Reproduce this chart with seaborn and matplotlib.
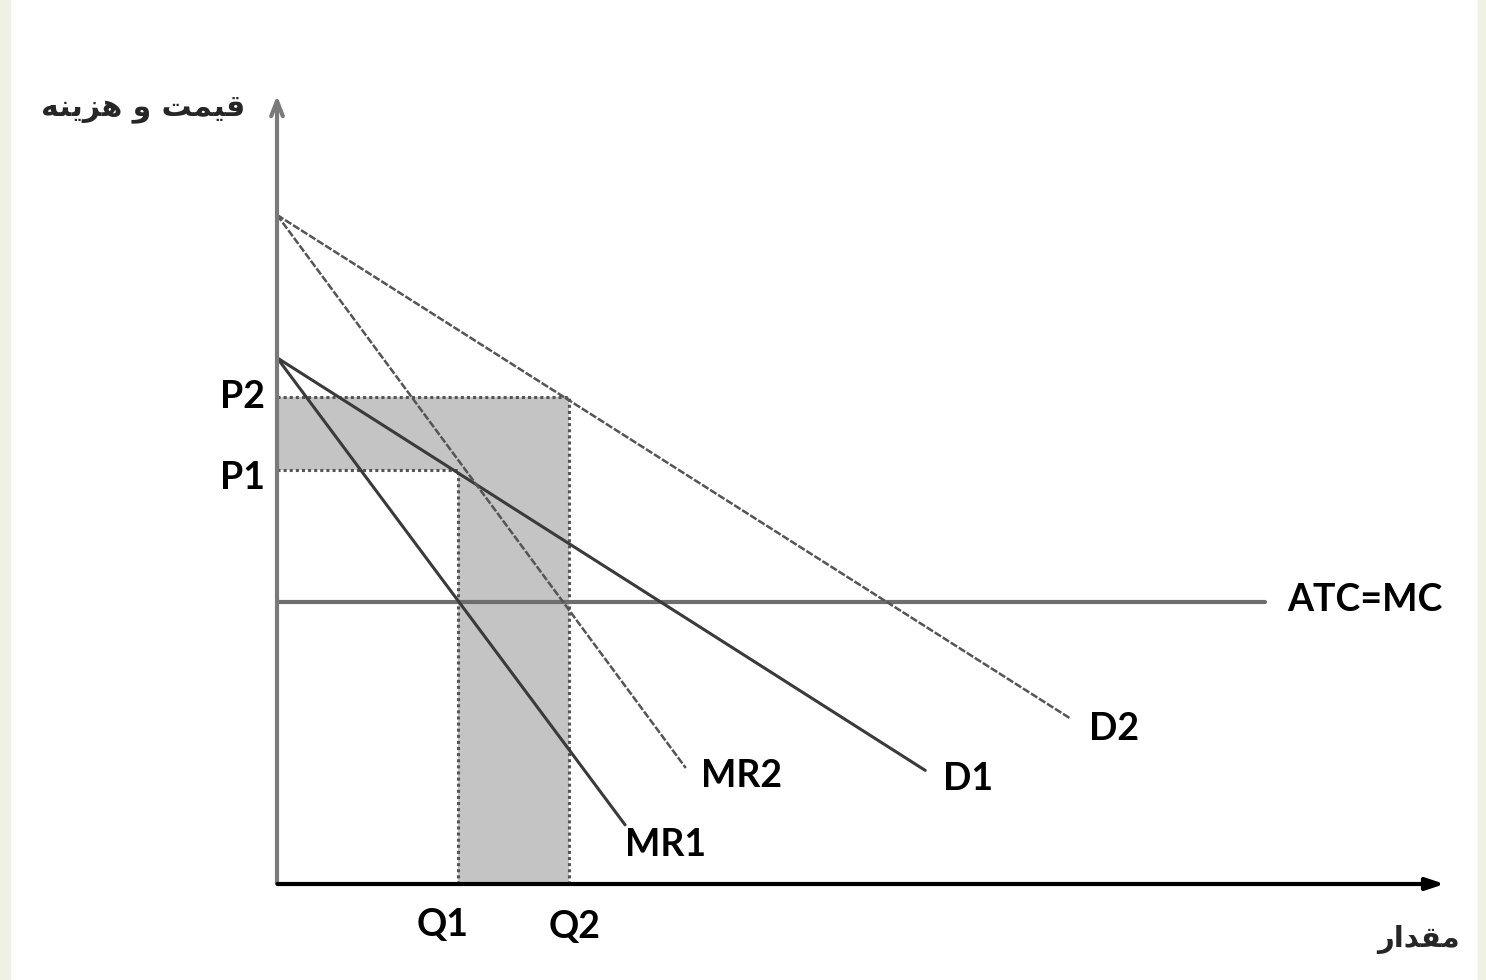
import numpy as np
import pandas as pd
import matplotlib
matplotlib.use("Agg")
import matplotlib.pyplot as plt
from matplotlib.patches import Rectangle
import seaborn as sns

# curve end points (quantity, price)
d2_q = [0.0, 67.9]
d2_p = [84.8, 21.0]
mr2_q = [0.0, 35.0]
mr2_p = [84.8, 14.7]
d1_q = [0.0, 55.5]
d1_p = [66.7, 14.4]
mr1_q = [0.0, 29.8]
mr1_p = [66.7, 7.5]
atc_q = [0.0, 84.6]
atc_p = [35.7, 35.7]

p1, p2 = 52.5, 61.7
q1, q2 = 15.5, 25.0

# persian labels (logical text: "قیمت و هزینه", "مقدار"), given in
# presentation forms and visual order since matplotlib does no shaping
ylab = "\uFEEA\uFEE8\uFEF3\uFEB0\uFEEB \uFEED \uFE96\uFEE4\uFEF4\uFED7"
xlab = "\uFEAD\uFE8D\uFEAA\uFED8\uFEE3"

sns.set_theme(style="white")
plt.rcParams['font.family'] = ['Lato', 'DejaVu Sans']

fig = plt.figure(figsize=(14.86, 9.80), dpi=100)
ax = fig.add_axes([0, 0, 1, 1])
# pixel mapping: origin at (277, 884), 11.68 px per q unit, 7.89 px per p unit
ax.set_xlim(-277 / 11.68, (1486 - 277) / 11.68)
ax.set_ylim(-(980 - 884) / 7.89, 884 / 7.89)
ax.axis('off')

# side strips
for x0 in (0, 1478 / 1486):
    fig.patches.append(Rectangle((x0, 0), 10 / 1486, 1, transform=fig.transFigure,
                                 color='#eef2e2', zorder=0))

# shaded area
shade = '#c4c4c4'
ax.fill_between([0, q2], p1, p2, color=shade, lw=0, zorder=1)
ax.fill_between([q1, q2], 0, p2, color=shade, lw=0, zorder=1)

dot = dict(color='#555555', lw=2.2, ls=(0, (1, 1)), zorder=2)
ax.plot([0, q2], [p2, p2], **dot)
ax.plot([0, q1], [p1, p1], **dot)
ax.plot([q1, q1], [0, p1], **dot)
ax.plot([q2, q2], [0, p2], **dot)

# curves
sns.lineplot(x=atc_q, y=atc_p, ax=ax, color='#6e6e6e', lw=3, zorder=3)
sns.lineplot(x=d1_q, y=d1_p, ax=ax, color='#3a3a3a', lw=2.2, zorder=4)
sns.lineplot(x=mr1_q, y=mr1_p, ax=ax, color='#3a3a3a', lw=2.2, zorder=4)
sns.lineplot(x=d2_q, y=d2_p, ax=ax, color='#555555', lw=1.8, ls=(0, (3, 0.8)), zorder=4)
sns.lineplot(x=mr2_q, y=mr2_p, ax=ax, color='#555555', lw=1.8, ls=(0, (3, 0.8)), zorder=4)

# axes with arrows
ax.annotate('', xy=(0, 100.3), xytext=(0, -0.2),
            arrowprops=dict(arrowstyle='->,head_length=0.9,head_width=0.35',
                            color='#7a7a7a', lw=3), zorder=5)
ax.annotate('', xy=(100.2, 0), xytext=(-0.2, 0),
            arrowprops=dict(arrowstyle='-|>,head_length=0.9,head_width=0.3',
                            color='black', lw=3), zorder=5)

lab = dict(fontsize=27, fontweight='bold', color='black', va='center')
ax.text(-1.0, p2, 'P2', ha='right', **lab)
ax.text(-1.0, p1 - 1.0, 'P1', ha='right', **lab)
ax.text(q1 - 1.3, -5.2, 'Q1', ha='center', **lab)
ax.text(q2 + 0.5, -5.5, 'Q2', ha='center', **lab)
ax.text(29.8, 4.9, 'MR1', ha='left', **lab)
ax.text(36.3, 13.7, 'MR2', ha='left', **lab)
ax.text(57.0, 13.3, 'D1', ha='left', **lab)
ax.text(69.5, 19.6, 'D2', ha='left', **lab)
ax.text(86.5, 36.0, 'ATC=MC', ha='left', **lab)

ax.text(-2.7, 98.3, ylab, ha='right', va='center', fontsize=21.5,
        fontweight='bold', family=['DejaVu Sans'])
ax.text(101.3, -7.0, xlab, ha='right', va='center', fontsize=21,
        fontweight='bold', family=['DejaVu Sans'])

fig.savefig('out.png', dpi=100)
